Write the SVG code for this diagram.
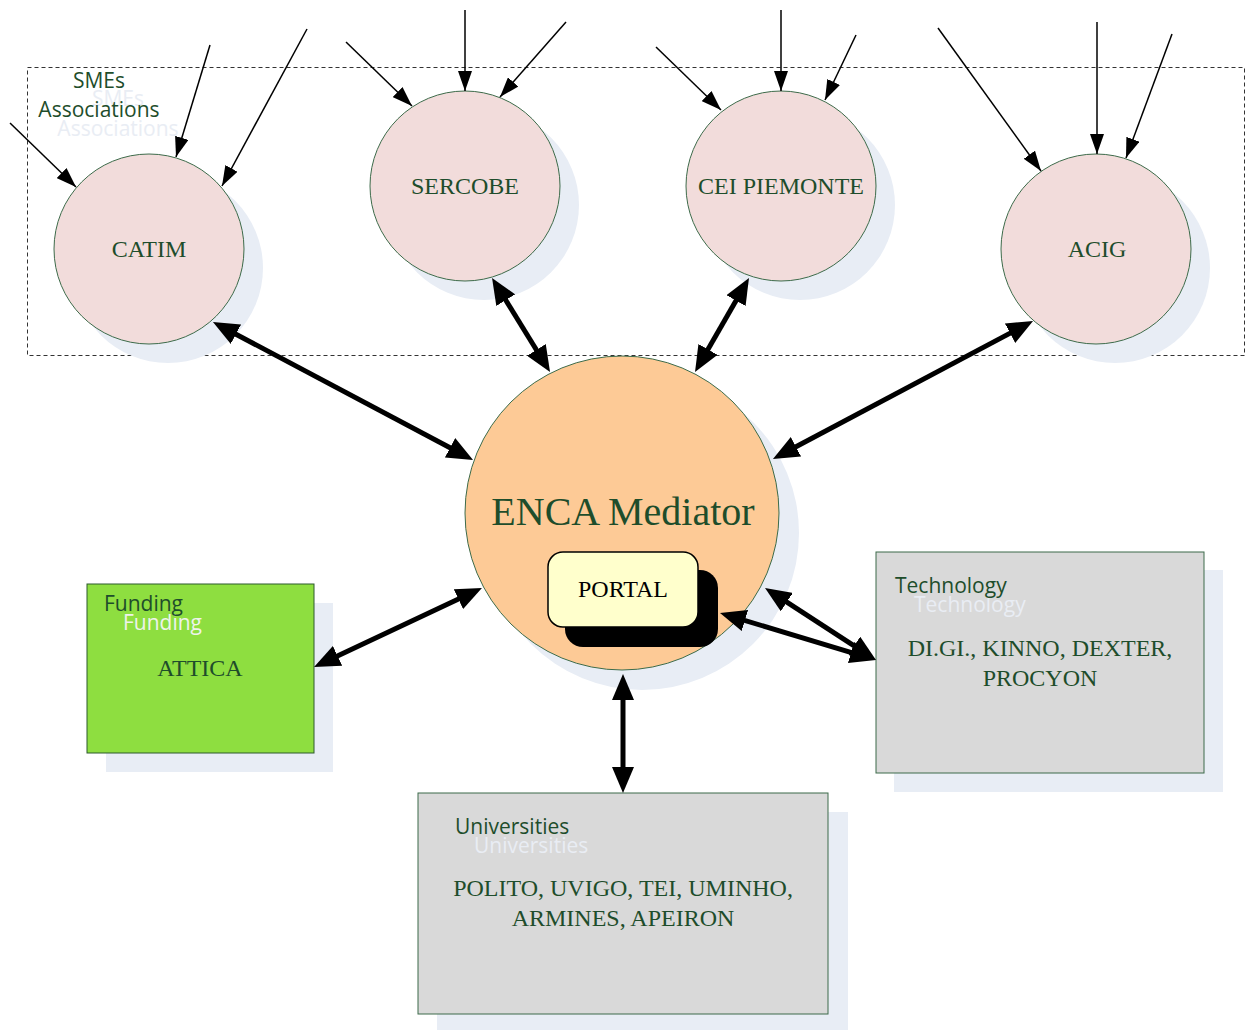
<svg xmlns="http://www.w3.org/2000/svg" width="1247" height="1030" viewBox="0 0 1247 1030">
<style>
.shadow{fill:#e8edf5;stroke:none}
.org{fill:#f2dcdb;stroke:#3d6b4a;stroke-width:1}
.serif{font-family:"Liberation Serif","Times New Roman",serif;fill:#1e4d2b;text-anchor:middle}
.sans{font-family:"Open Sans","Noto Sans",sans-serif;font-size:21px;fill:#1e4d2b}
.ghost{font-family:"Open Sans","Noto Sans",sans-serif;font-size:21px;fill:#e9edf4}
.thin{stroke:#000;stroke-width:1.5;fill:none;marker-end:url(#thinHead)}
.thick{stroke:#000;stroke-width:5;fill:none;marker-start:url(#thickHead);marker-end:url(#thickHead)}
.box{stroke:#3d6b4a;stroke-width:1}
</style>
<defs>
<marker id="thinHead" markerUnits="userSpaceOnUse" markerWidth="20" markerHeight="14" viewBox="0 0 20 14" refX="20" refY="7" orient="auto">
<path d="M0,0 L20,7 L0,14 z" fill="#000"/>
</marker>
<marker id="thickHead" markerUnits="userSpaceOnUse" markerWidth="26" markerHeight="22" viewBox="0 0 26 22" refX="16" refY="11" orient="auto-start-reverse">
<path d="M0,0 L26,11 L0,22 z" fill="#000"/>
</marker>
</defs>
<rect width="1247" height="1030" fill="#fff"/>

<g id="smes-group">
<rect x="27.5" y="67.5" width="1217" height="288" fill="none" stroke="#333" stroke-width="1" stroke-dasharray="4,3"/>
<text class="ghost" x="118" y="106" text-anchor="middle">SMEs</text>
<text class="ghost" x="118" y="136" text-anchor="middle">Associations</text>
<text class="sans" x="99" y="88" text-anchor="middle">SMEs</text>
<text class="sans" x="99" y="117" text-anchor="middle">Associations</text>
</g>

<g id="catim">
<circle class="shadow" cx="168" cy="268" r="95"/>
<circle class="org" cx="149" cy="249" r="95"/>
<text class="serif" x="149" y="257" font-size="24">CATIM</text>
</g>
<g id="sercobe">
<circle class="shadow" cx="484" cy="205" r="95"/>
<circle class="org" cx="465" cy="186" r="95"/>
<text class="serif" x="465" y="194" font-size="24">SERCOBE</text>
</g>
<g id="cei-piemonte">
<circle class="shadow" cx="800" cy="205" r="95"/>
<circle class="org" cx="781" cy="186" r="95"/>
<text class="serif" x="781" y="194" font-size="24">CEI PIEMONTE</text>
</g>
<g id="acig">
<circle class="shadow" cx="1115" cy="268" r="95"/>
<circle class="org" cx="1096" cy="249" r="95"/>
<text class="serif" x="1097" y="257" font-size="24">ACIG</text>
</g>

<g id="enca-mediator">
<circle class="shadow" cx="642" cy="533" r="157"/>
<circle cx="622" cy="513" r="157" fill="#fdca96" stroke="#3d6b4a" stroke-width="1"/>
<text class="serif" x="623" y="525" font-size="40">ENCA Mediator</text>
</g>
<g id="portal">
<rect x="565" y="570" width="153" height="77" rx="18" fill="#000"/>
<rect x="548" y="552" width="150" height="75" rx="15" fill="#ffffcc" stroke="#000" stroke-width="1.5"/>
<text x="623" y="597" font-family="'Liberation Serif','Times New Roman',serif" font-size="24" fill="#000" text-anchor="middle">PORTAL</text>
</g>

<g id="funding">
<rect class="shadow" x="106" y="603" width="227" height="169"/>
<rect x="87" y="584" width="227" height="169" fill="#8ede40" stroke="#2d5a2d" stroke-width="1"/>
<text class="ghost" x="123" y="630" fill="#eef4ea" style="fill:#eef3ec">Funding</text>
<text class="sans" x="104" y="611">Funding</text>
<text class="serif" x="200" y="676" font-size="24">ATTICA</text>
</g>

<g id="technology">
<rect class="shadow" x="894" y="570" width="329" height="222"/>
<rect class="box" x="876" y="552" width="328" height="221" fill="#d9d9d9"/>
<text class="ghost" x="914" y="612">Technology</text>
<text class="sans" x="895" y="593">Technology</text>
<text class="serif" x="1040" y="656" font-size="24">DI.GI., KINNO, DEXTER,</text>
<text class="serif" x="1040" y="686" font-size="24">PROCYON</text>
</g>

<g id="universities">
<rect class="shadow" x="437" y="812" width="411" height="218"/>
<rect class="box" x="418" y="793" width="410" height="221" fill="#d9d9d9"/>
<text class="ghost" x="474" y="853">Universities</text>
<text class="sans" x="455" y="834">Universities</text>
<text class="serif" x="623" y="896" font-size="24">POLITO, UVIGO, TEI, UMINHO,</text>
<text class="serif" x="623" y="926" font-size="24">ARMINES, APEIRON</text>
</g>

<g id="connectors">
<line class="thin" x1="10" y1="123" x2="76" y2="187"/>
<line class="thin" x1="210" y1="45" x2="176" y2="157"/>
<line class="thin" x1="307" y1="29" x2="222" y2="186"/>
<line class="thin" x1="346" y1="42" x2="412" y2="106"/>
<line class="thin" x1="465" y1="10" x2="465" y2="91"/>
<line class="thin" x1="566" y1="22" x2="500" y2="97"/>
<line class="thin" x1="656" y1="47" x2="721" y2="110"/>
<line class="thin" x1="781" y1="10" x2="781" y2="91"/>
<line class="thin" x1="856" y1="35" x2="825" y2="100"/>
<line class="thin" x1="938" y1="28" x2="1041" y2="171"/>
<line class="thin" x1="1097" y1="22" x2="1097" y2="154"/>
<line class="thin" x1="1172" y1="34" x2="1126" y2="158"/>

<line class="thick" x1="221.8" y1="326.7" x2="464.2" y2="455.3"/>
<line class="thick" x1="497.3" y1="286.5" x2="544.8" y2="363.5"/>
<line class="thick" x1="744.0" y1="286.7" x2="700.0" y2="363.3"/>
<line class="thick" x1="1024.2" y1="325.7" x2="781.8" y2="454.3"/>
<line class="thick" x1="323.1" y1="662.7" x2="472.9" y2="592.3"/>
<line class="thick" x1="773.4" y1="593.4" x2="867.6" y2="654.6"/>
<line class="thick" x1="729.6" y1="615.9" x2="866.4" y2="657.1"/>
<line class="thick" x1="623" y1="684" x2="623" y2="783"/>
</g>
</svg>
